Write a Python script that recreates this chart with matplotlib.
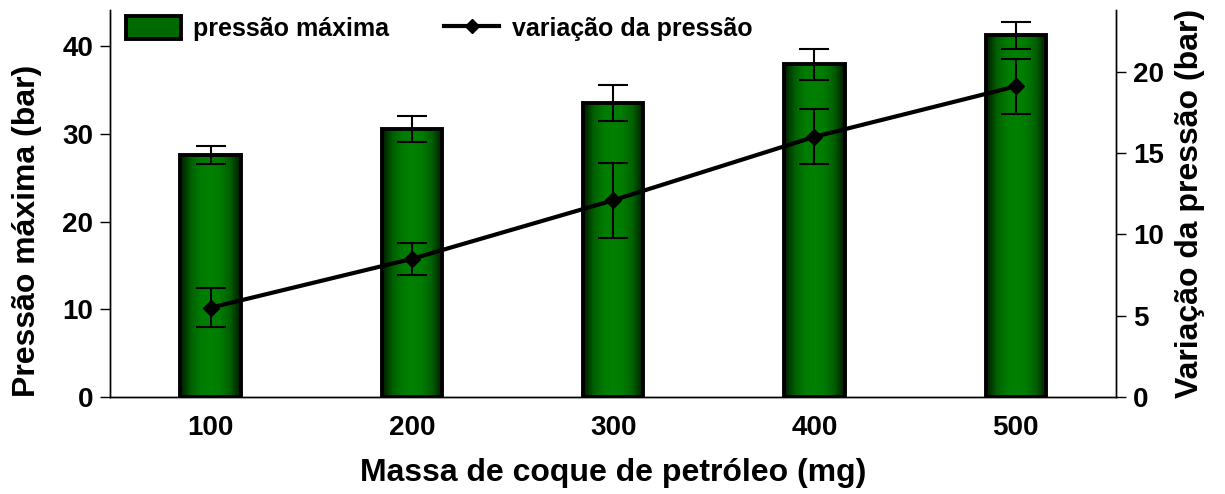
import numpy as np
import matplotlib
matplotlib.use("Agg")
import matplotlib.pyplot as plt
from matplotlib.colors import LinearSegmentedColormap
from matplotlib.lines import Line2D
from matplotlib.patches import Patch

plt.rcParams["font.family"] = ["Liberation Sans", "DejaVu Sans"]
plt.rcParams["font.weight"] = "bold"

# data
massa = ["100", "200", "300", "400", "500"]
pressao_max = [27.6, 30.5, 33.5, 37.9, 41.2]
pressao_max_err = [1.0, 1.5, 2.0, 1.8, 1.5]
variacao = [5.5, 8.5, 12.1, 16.0, 19.1]
variacao_err = [1.2, 1.0, 2.3, 1.7, 1.7]

green_cmap = LinearSegmentedColormap.from_list(
    "bar_grad",
    [(0.0, "#001800"), (0.18, "#006000"), (0.35, "#007c00"), (0.5, "#008000"),
     (0.65, "#007c00"), (0.82, "#006000"), (1.0, "#001800")],
)

fig = plt.figure(figsize=(12.25, 4.94), dpi=100)
ax = fig.add_axes([0.0898, 0.196, 0.8215, 0.784])
ax2 = ax.twinx()

x = np.arange(len(massa))
bars = ax.bar(x, pressao_max, width=0.3, color="none", edgecolor="black",
              linewidth=2.8, zorder=3)
# horizontal dark-green-green-dark gradient inside each bar
grad = np.linspace(0, 1, 256).reshape(1, -1)
for b in bars:
    x0, y0 = b.get_x(), b.get_y()
    im = ax.imshow(grad, cmap=green_cmap, aspect="auto", zorder=2,
                   extent=(x0, x0 + b.get_width(), y0, y0 + b.get_height()))
    im.set_clip_path(b)
ax.errorbar(x, pressao_max, yerr=pressao_max_err, fmt="none", ecolor="black",
            elinewidth=1.5, capsize=11, capthick=1.5, zorder=4)

ax2.errorbar(x, variacao, yerr=variacao_err, fmt="none", ecolor="black",
             elinewidth=1.5, capsize=11, capthick=1.5, zorder=4)
ax2.plot(x, variacao, color="black", linewidth=3, marker="D", markersize=8,
         zorder=5)

ax.set_xlim(-0.5, 4.5)
ax.set_ylim(0, 44.1)
ax2.set_ylim(0, 23.8)
ax.set_yticks([0, 10, 20, 30, 40])
ax2.set_yticks([0, 5, 10, 15, 20])
ax.set_xticks(x)
ax.set_xticklabels(massa)

for a in (ax, ax2):
    a.spines["top"].set_visible(False)
    for s in a.spines.values():
        s.set_linewidth(1.0)
ax.tick_params(axis="x", length=0, pad=13, labelsize=20)
ax.tick_params(axis="y", direction="out", length=7, width=1, labelsize=20, pad=5)
ax2.tick_params(axis="y", direction="out", length=7, width=1, labelsize=20, pad=5)

ax.set_xlabel("Massa de coque de petróleo (mg)", fontsize=23, fontweight="bold",
              labelpad=12)
ax.set_ylabel("Pressão máxima (bar)", fontsize=23, fontweight="bold")
ax.yaxis.set_label_coords(-0.068, 0.43)
ax2.set_ylabel("Variação da pressão (bar)", fontsize=23, fontweight="bold",
               labelpad=8)

handles = [
    Patch(facecolor="#006a00", edgecolor="black", linewidth=2.8),
    Line2D([0], [0], color="black", linewidth=3, marker="D", markersize=7),
]
ax2.legend(handles, ["pressão máxima", "variação da pressão"], loc="upper left",
           bbox_to_anchor=(0.013, 0.99), ncol=2, frameon=False, fontsize=18,
           handlelength=2.2, handleheight=1.0, handletextpad=0.5,
           columnspacing=2.2, borderpad=0.1, borderaxespad=0)

fig.savefig("out.png", dpi=100)
